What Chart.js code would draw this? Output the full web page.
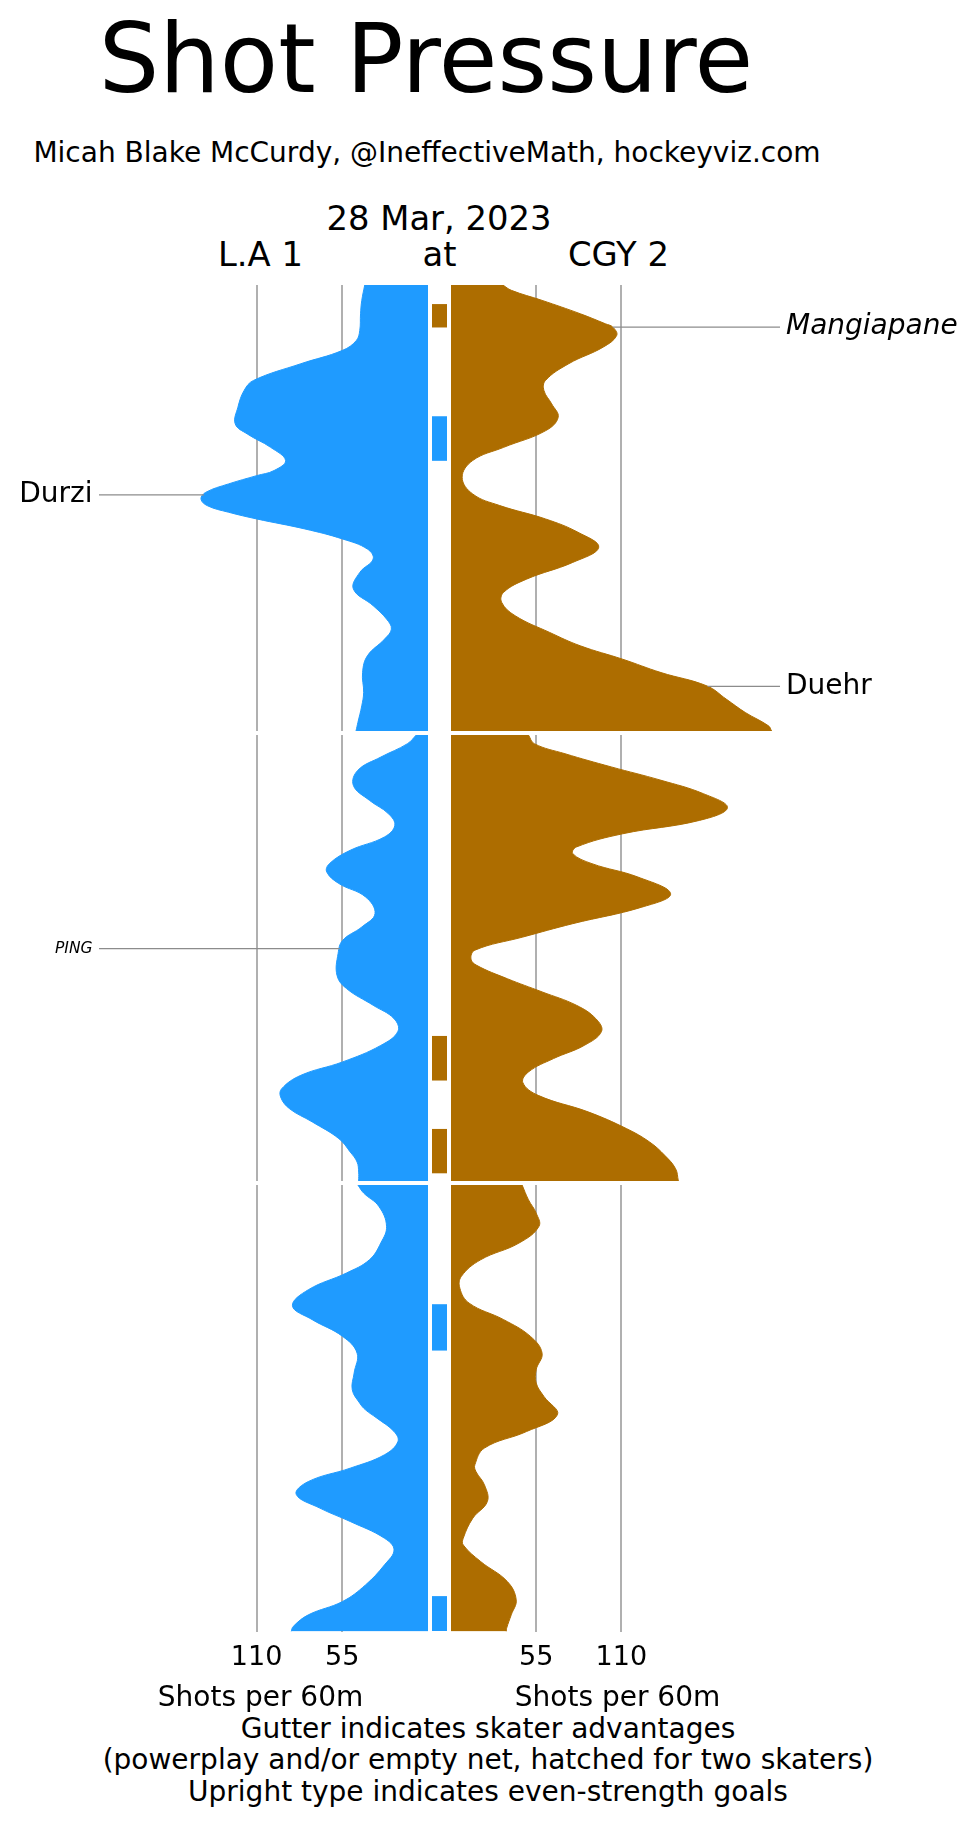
<!DOCTYPE html>
<html>
<head>
<meta charset="utf-8">
<title>Shot Pressure</title>
<script src="https://cdn.jsdelivr.net/npm/chart.js@4.4.0/dist/chart.umd.min.js"></script>
<style>
  html, body { margin: 0; padding: 0; background: #fff; }
  #page { position: relative; width: 976px; height: 1827px; overflow: hidden; font-family: 'DejaVu Sans', sans-serif; color: #000; }
  .txt { position: absolute; white-space: nowrap; line-height: 1; transform: translateX(-50%); }
  canvas { position: absolute; }
</style>
</head>
<body>
<div id="page">
  <div class="txt" style="left:426px; top:11px; font-size:95.4px;">Shot Pressure</div>
  <div class="txt" style="left:427px; top:139px; font-size:28px;">Micah Blake McCurdy, @IneffectiveMath, hockeyviz.com</div>
  <div class="txt" style="left:439px; top:201.5px; font-size:33.8px;">28 Mar, 2023</div>
  <div class="txt" style="left:260.5px; top:238px; font-size:33.8px;">L.A 1</div>
  <div class="txt" style="left:439.5px; top:238px; font-size:33.8px;">at</div>
  <div class="txt" style="left:618.5px; top:238px; font-size:33.8px;">CGY 2</div>
  <div class="txt" style="left:488px; top:1714.5px; font-size:28px;">Gutter indicates skater advantages</div>
  <div class="txt" style="left:488px; top:1746px; font-size:28px;">(powerplay and/or empty net, hatched for two skaters)</div>
  <div class="txt" style="left:488px; top:1777.5px; font-size:28px;">Upright type indicates even-strength goals</div>
</div>
<script>
// shot rate (shots per 60m) by game minute, one pair of arrays per team and period
const laP1Min = [0, 0.69, 1.29, 2.04, 2.49, 2.93, 3.53, 4.28, 4.73, 5.48, 6.23, 6.68, 7.28, 7.87, 8.32, 8.55, 8.92, 9.3, 9.6, 9.9, 10.19, 10.49, 10.94, 11.39, 11.84, 12.29, 12.89, 13.63, 14.38, 14.98, 15.43, 15.88, 16.63, 17.38, 18.27, 18.87, 19.62, 20];
const laP1Rate = [40.6, 42.5, 43.3, 43.8, 46, 54.8, 81.6, 112, 118, 122, 123.7, 116, 101, 91.4, 98.8, 110, 128, 142.7, 145.7, 141.5, 128, 110, 79, 54.8, 38.9, 35.2, 43.8, 47.9, 35.2, 26.6, 23.5, 27.9, 38.9, 42, 41.3, 42.5, 45, 46.2];
const cgyP1Min = [0, 0.24, 0.69, 1.29, 1.74, 1.89, 2.26, 2.78, 3.53, 4.28, 4.73, 5.33, 5.93, 6.53, 7.28, 7.87, 8.62, 9.37, 9.89, 10.49, 11.09, 11.76, 12.44, 13.19, 13.78, 14.23, 14.83, 15.58, 16.18, 16.78, 17.38, 17.98, 18.57, 19.17, 19.77, 20];
const cgyP1Rate = [33.5, 39, 58.8, 83.5, 99.7, 104.5, 107, 98.4, 76, 61, 60, 65, 69.2, 61.2, 34, 14, 7.2, 14, 31.5, 61, 82, 95.4, 78.6, 48.8, 34, 32.7, 41.4, 63.7, 83.5, 110.8, 135.6, 165.3, 177.7, 190, 205, 207];

const laP2Min = [0, 0.39, 0.99, 1.58, 2.26, 2.93, 3.53, 4.05, 4.57, 5.17, 5.77, 6.14, 6.66, 7.26, 8.01, 8.61, 9.21, 9.8, 10.78, 11.37, 12.12, 12.72, 13.29, 13.92, 14.66, 15.26, 15.86, 16.23, 16.75, 17.35, 18.1, 18.7, 19.15, 19.6, 20];
const laP2Rate = [7.5, 13.2, 30.3, 45, 47.9, 37.6, 25.4, 21.3, 27.9, 49.9, 63.3, 65, 57.2, 40.1, 34, 42.5, 54.8, 57.7, 58.4, 52.3, 35.2, 21.8, 19.3, 30.3, 54.8, 81.6, 93.9, 94.6, 89, 74.3, 57.2, 49.9, 45.5, 44.5, 44.5];
const cgyP2Min = [0, 0.39, 0.84, 1.43, 2.03, 2.63, 3.26, 3.83, 4.43, 5.02, 5.32, 5.77, 6.37, 7.12, 7.72, 8.46, 9.06, 9.65, 10.05, 10.33, 10.93, 11.52, 12.12, 12.72, 13.29, 13.92, 14.51, 15.11, 15.59, 16.16, 16.9, 17.65, 18.25, 18.85, 19.45, 20];
const cgyP2Rate = [50, 53.8, 73.6, 103.4, 135.6, 162.9, 178.5, 160.4, 110.8, 81, 78.6, 91, 120.7, 141.8, 123.2, 78.6, 46.4, 15.4, 12.9, 16.6, 36.4, 58.8, 81, 93.5, 97.2, 86, 66.2, 50, 46.4, 56.3, 88.5, 113.3, 128.2, 138, 145, 146.8];

const laP3Min = [0, 0.36, 0.96, 1.85, 2.6, 3.35, 3.94, 4.69, 5.41, 6.03, 6.78, 7.53, 8.42, 9.17, 9.77, 10.07, 10.44, 11.04, 11.49, 12.08, 12.68, 13.28, 13.85, 14.47, 15.07, 15.82, 16.34, 17.01, 17.91, 18.65, 19.25, 19.77, 20];
const laP3Rate = [45, 41.3, 31.5, 26.6, 30.3, 37.6, 52.3, 76.8, 87, 74.3, 54.8, 45.5, 47.4, 48.6, 43.8, 40.1, 32.8, 21.8, 19.3, 27.9, 49.9, 76.8, 84.6, 69.4, 49.9, 27.9, 21.8, 27.9, 40.1, 54.8, 76.8, 86.5, 87.8];
const cgyP3Min = [0, 0.66, 1.26, 1.85, 2.6, 3.35, 4.09, 4.62, 5.29, 6.03, 6.78, 7.53, 8.27, 8.87, 9.47, 10.29, 11.04, 11.78, 12.53, 12.83, 13.43, 14.17, 14.92, 15.82, 16.12, 16.86, 17.76, 18.58, 19.25, 19.85, 20];
const cgyP3Rate = [45.9, 50, 55, 56.8, 43.9, 19.1, 6.7, 5.7, 11.7, 34, 51.3, 58.8, 55, 55, 60, 68.7, 48.8, 21.6, 15.4, 16.1, 21.6, 23.5, 14.1, 7.9, 7.9, 19.1, 36.4, 42.1, 38.9, 35.9, 35.7];

// skater advantages shown in the gutter
const ppTeam = ['CGY', 'LA', 'CGY', 'CGY', 'LA', 'LA'];
const ppPeriod = [1, 1, 2, 2, 3, 3];
const ppStart = [0.87, 5.9, 13.51, 17.68, 5.36, 18.45];
const ppEnd = [1.89, 7.87, 15.48, 19.64, 7.41, 20];

// labelled events
const noteName = ['Mangiapane', 'Durzi', 'Duehr', 'PING'];
const noteTeam = ['CGY', 'LA', 'CGY', 'LA'];
const notePeriod = [1, 1, 1, 2];
const noteMinute = [1.89, 9.41, 18.0, 9.58];
const noteEvenStrength = [false, true, true, false];

const gridRates = [55, 110];
const rateMax = 215;

const LA_BLUE = '#1f9bff';
const CGY_BROWN = '#ad6d00';
const GRID = '#b0b0b0';
const LEADER = '#8c8c8c';
const smallNotes = ['PING'];

Chart.defaults.font.family = "'DejaVu Sans', sans-serif";
Chart.defaults.color = '#000';

const page = document.getElementById('page');
const periodTop = [285, 735, 1185];
const panelH = 446;

// draws the leader line and name for each labelled event
const noteLabels = {
    id: 'noteLabels',
    afterDatasetsDraw(chart, args, opts) {
        const {ctx, chartArea} = chart;
        const xs = chart.scales.x, ys = chart.scales.y;
        const pts = chart.data.datasets[0].data;
        const isLeft = opts.team === 'LA';
        noteName.forEach(function (name, i) {
            if (noteTeam[i] !== opts.team || notePeriod[i] !== opts.period) return;
            const t = noteMinute[i];
            let k = 1;
            while (k < pts.length - 1 && pts[k].y < t) k++;
            const a = pts[k - 1], b = pts[k];
            const v = a.x + (b.x - a.x) * (t - a.y) / (b.y - a.y);
            const px = xs.getPixelForValue(v);
            const py = ys.getPixelForValue(t);
            ctx.save();
            ctx.strokeStyle = LEADER;
            ctx.lineWidth = 1.2;
            ctx.beginPath();
            ctx.moveTo(isLeft ? chartArea.left + 6 : chartArea.right - 4, py);
            ctx.lineTo(px, py);
            ctx.stroke();
            const size = smallNotes.includes(name) ? 15.5 : 28;
            ctx.font = (noteEvenStrength[i] ? '' : 'italic ') + size + "px 'DejaVu Sans'";
            ctx.fillStyle = '#000';
            ctx.textBaseline = 'middle';
            ctx.textAlign = isLeft ? 'right' : 'left';
            ctx.fillText(name, isLeft ? chartArea.left - 0.5 : chartArea.right + 2, py);
            ctx.restore();
        });
    }
};

function addCanvas(left, top, w, h) {
    const c = document.createElement('canvas');
    c.width = w;
    c.height = h;
    c.style.left = left + 'px';
    c.style.top = top + 'px';
    page.appendChild(c);
    return c;
}

function sideChart(team, period, minutes, rates) {
    const isLeft = team === 'LA';
    const last = period === 3;
    const color = isLeft ? LA_BLUE : CGY_BROWN;
    const canvas = addCanvas(isLeft ? 0 : 451, periodTop[period - 1], isLeft ? 428 : 525, last ? 528 : panelH);
    return new Chart(canvas, {
        type: 'line',
        data: {
            datasets: [{
                label: team,
                data: minutes.map(function (m, i) { return {x: rates[i], y: m}; }),
                borderColor: color,
                backgroundColor: color,
                borderWidth: 1,
                pointRadius: 0,
                fill: 'origin',
                tension: 0.4
            }]
        },
        options: {
            indexAxis: 'y',
            responsive: false,
            animation: false,
            events: [],
            layout: {padding: isLeft ? {left: 93} : {right: 192}},
            scales: {
                x: {
                    type: 'linear',
                    min: 0,
                    max: rateMax,
                    reverse: isLeft,
                    border: {display: false},
                    grid: {color: GRID, lineWidth: 2, drawTicks: false},
                    afterBuildTicks: function (s) { s.ticks = gridRates.map(function (v) { return {value: v}; }); },
                    ticks: {
                        display: last,
                        padding: 10,
                        font: {size: 27},
                        color: '#000',
                        maxRotation: 0,
                        autoSkip: false,
                        callback: function (v) { return String(v); }
                    },
                    title: {
                        display: last,
                        text: 'Shots per 60m',
                        font: {size: 28, lineHeight: 1},
                        color: '#000',
                        padding: {top: 1, bottom: 0}
                    }
                },
                y: {type: 'linear', min: 0, max: 20, reverse: true, display: false}
            },
            plugins: {
                legend: {display: false},
                tooltip: {enabled: false},
                noteLabels: {team: team, period: period}
            }
        },
        plugins: [noteLabels]
    });
}

function gutterChart(period) {
    const canvas = addCanvas(432, periodTop[period - 1], 15, panelH);
    const datasets = ['LA', 'CGY'].map(function (team) {
        const bars = [];
        ppTeam.forEach(function (t, i) {
            if (t === team && ppPeriod[i] === period) bars.push({x: 'pp', y: [ppStart[i], ppEnd[i]]});
        });
        return {
            label: team,
            data: bars,
            backgroundColor: team === 'LA' ? LA_BLUE : CGY_BROWN,
            borderWidth: 0,
            grouped: false,
            barPercentage: 1,
            categoryPercentage: 1
        };
    });
    return new Chart(canvas, {
        type: 'bar',
        data: {labels: ['pp'], datasets: datasets},
        options: {
            responsive: false,
            animation: false,
            events: [],
            scales: {
                x: {display: false},
                y: {type: 'linear', min: 0, max: 20, reverse: true, display: false}
            },
            plugins: {legend: {display: false}, tooltip: {enabled: false}}
        }
    });
}

sideChart('LA', 1, laP1Min, laP1Rate);
sideChart('CGY', 1, cgyP1Min, cgyP1Rate);
gutterChart(1);
sideChart('LA', 2, laP2Min, laP2Rate);
sideChart('CGY', 2, cgyP2Min, cgyP2Rate);
gutterChart(2);
sideChart('LA', 3, laP3Min, laP3Rate);
sideChart('CGY', 3, cgyP3Min, cgyP3Rate);
gutterChart(3);
</script>
</body>
</html>
